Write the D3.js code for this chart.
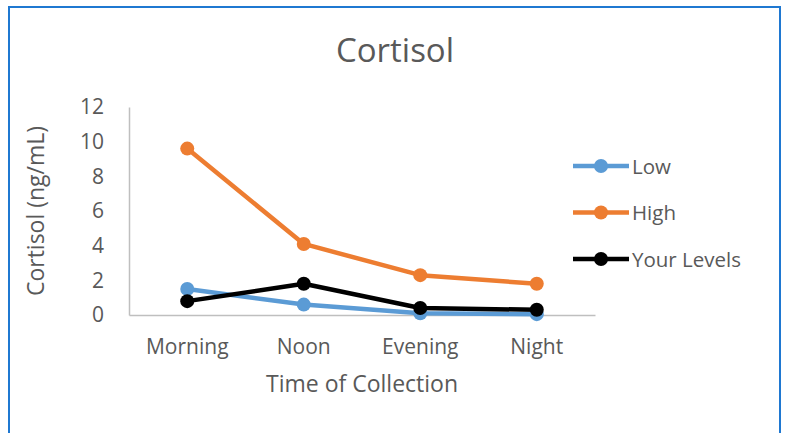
<!DOCTYPE html>
<html>
<head>
<meta charset="utf-8">
<script src="https://cdn.jsdelivr.net/npm/d3@7"></script>
<style>
  body { margin: 0; background: #fff; }
  text { font-family: "Open Sans", "Liberation Sans", sans-serif; fill: #595959; }
</style>
</head>
<body>
<svg id="chart" width="788" height="433"></svg>
<script>
// data
var categories = ["Morning", "Noon", "Evening", "Night"];
var lowValues = [1.5, 0.6, 0.1, 0.05];
var highValues = [9.6, 4.1, 2.3, 1.8];
var yourValues = [0.8, 1.8, 0.4, 0.3];
var yTicks = [0, 2, 4, 6, 8, 10, 12];
var seriesNames = ["Low", "High", "Your Levels"];

var svg = d3.select("#chart");

// outer frame
svg.append("rect")
    .attr("x", 9).attr("y", 7)
    .attr("width", 771).attr("height", 440)
    .attr("fill", "#fff")
    .attr("stroke", "#1f78d1")
    .attr("stroke-width", 2);

var x = d3.scaleBand()
    .domain(categories)
    .range([129, 595]);

var y = d3.scaleLinear()
    .domain([0, 12])
    .range([315, 107]);

// axis lines
var yAxis = svg.append("g")
    .attr("transform", "translate(129,0)")
    .call(d3.axisLeft(y).tickValues(yTicks).tickSize(0).tickPadding(25));
yAxis.select(".domain").attr("stroke", "#bfbfbf").attr("stroke-width", 1.5);
yAxis.selectAll("text").attr("font-size", 21).attr("fill", "#595959");

var xAxis = svg.append("g")
    .attr("transform", "translate(0,315)")
    .call(d3.axisBottom(x).tickSize(0).tickPadding(24));
xAxis.select(".domain").attr("stroke", "#bfbfbf").attr("stroke-width", 1.5);
xAxis.selectAll("text").attr("font-size", 21).attr("fill", "#595959");

// titles
svg.append("text")
    .attr("x", 395).attr("y", 62)
    .attr("text-anchor", "middle")
    .attr("font-size", 33)
    .text("Cortisol");

svg.append("text")
    .attr("transform", "translate(44,211) rotate(-90)")
    .attr("text-anchor", "middle")
    .attr("font-size", 23)
    .text("Cortisol (ng/mL)");

svg.append("text")
    .attr("x", 362).attr("y", 392)
    .attr("text-anchor", "middle")
    .attr("font-size", 23)
    .text("Time of Collection");

// series
var series = [
    {name: seriesNames[0], values: lowValues, color: "#5b9bd5"},
    {name: seriesNames[1], values: highValues, color: "#ed7d31"},
    {name: seriesNames[2], values: yourValues, color: "#000000"}
];

var line = d3.line()
    .x(function (d, i) { return x(categories[i]) + x.bandwidth() / 2; })
    .y(function (d) { return y(d); });

series.forEach(function (s) {
    var g = svg.append("g");
    g.append("path")
        .attr("d", line(s.values))
        .attr("fill", "none")
        .attr("stroke", s.color)
        .attr("stroke-width", 4.5)
        .attr("stroke-linejoin", "round");
    g.selectAll("circle")
        .data(s.values)
        .enter()
        .append("circle")
        .attr("cx", function (d, i) { return x(categories[i]) + x.bandwidth() / 2; })
        .attr("cy", function (d) { return y(d); })
        .attr("r", 7)
        .attr("fill", s.color);
});

// legend
var legend = svg.append("g")
    .selectAll("g")
    .data(series)
    .enter()
    .append("g")
    .attr("transform", function (d, i) { return "translate(573," + (166 + i * 46.5) + ")"; });

legend.append("line")
    .attr("x1", 0).attr("x2", 56)
    .attr("stroke", function (d) { return d.color; })
    .attr("stroke-width", 4.5);
legend.append("circle")
    .attr("cx", 28).attr("r", 7)
    .attr("fill", function (d) { return d.color; });
legend.append("text")
    .attr("x", 59).attr("y", 7.5)
    .attr("font-size", 20.5)
    .text(function (d) { return d.name; });
</script>
</body>
</html>
